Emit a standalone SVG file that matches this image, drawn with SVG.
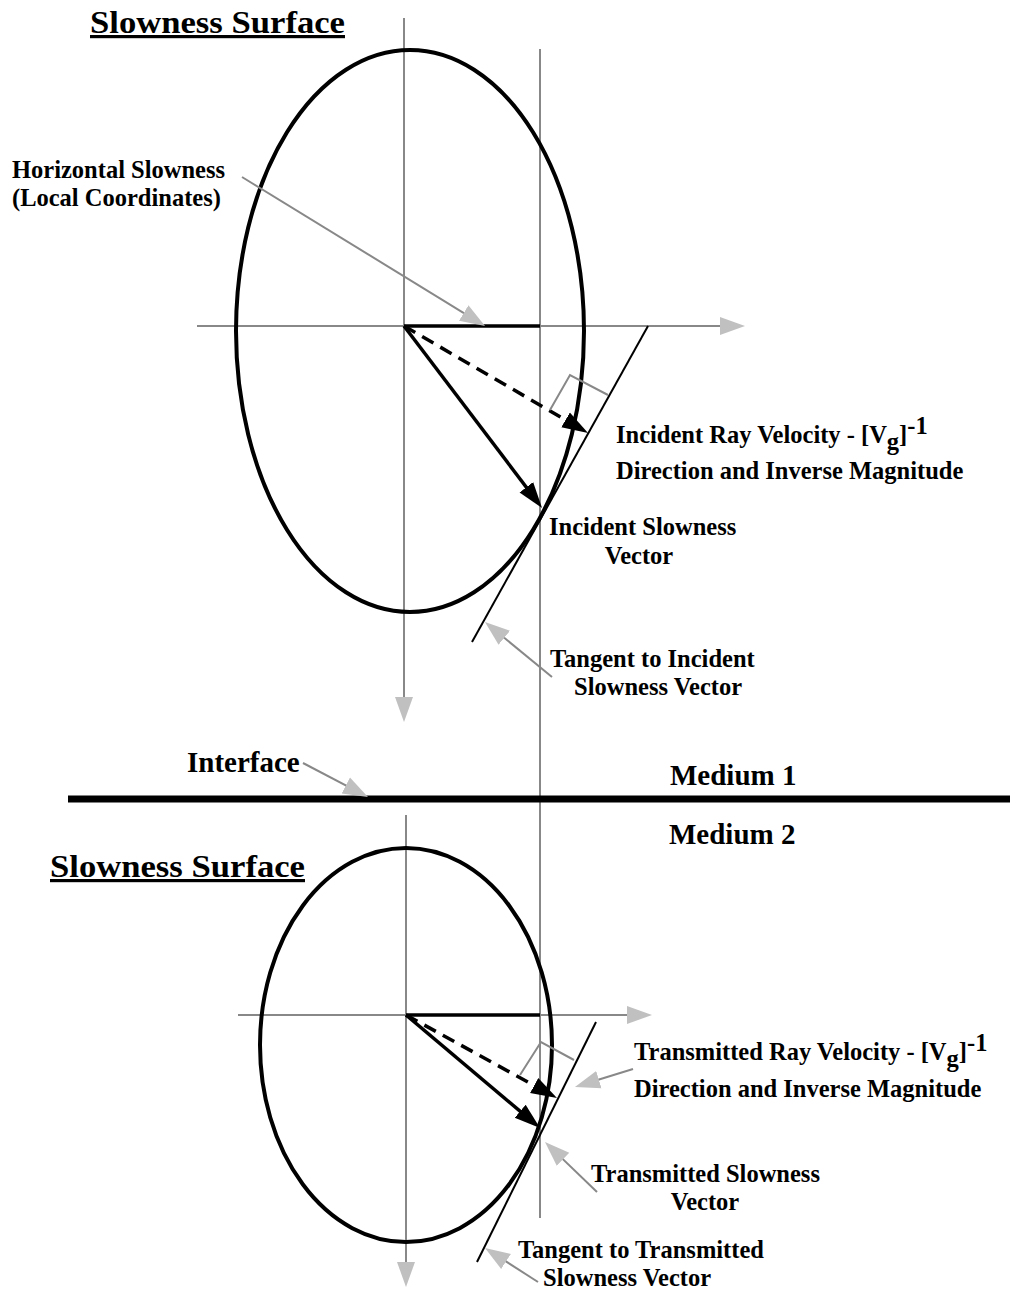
<svg xmlns="http://www.w3.org/2000/svg" width="1010" height="1289" viewBox="0 0 1010 1289">
<style>
  .t { font-family: "Liberation Serif", "Times New Roman", serif; font-weight: bold; fill: #000; }
  .lbl { font-size: 24.5px; }
  .med { font-size: 29px; }
  .title { font-size: 32px; text-decoration: underline; }
  .gray { stroke: #888; stroke-width: 2; fill: none; }
  .surf { stroke: #000; stroke-width: 4; fill: none; }
  .vec { stroke: #000; stroke-width: 3.5; fill: none; }
  .dash { stroke-dasharray: 13 8; }
  .tan { stroke: #000; stroke-width: 2; fill: none; }
</style>
<defs>
  <marker id="blk" markerUnits="userSpaceOnUse" markerWidth="30" markerHeight="20" viewBox="0 -10 30 20" refX="16" refY="0" orient="auto">
    <path d="M0,-8.5 L26,0 L0,8.5 z" fill="#000"/>
  </marker>
  <marker id="gry" markerUnits="userSpaceOnUse" markerWidth="30" markerHeight="22" viewBox="0 -11 30 22" refX="15" refY="0" orient="auto">
    <path d="M0,-9 L25,0 L0,9 z" fill="#c0c0c0"/>
  </marker>
</defs>
<rect width="1010" height="1289" fill="#fff"/>

<g id="top-axes">
  <line class="gray" x1="197" y1="326" x2="735" y2="326" marker-end="url(#gry)"/>
  <line class="gray" x1="404" y1="18" x2="404" y2="712" marker-end="url(#gry)"/>
</g>
<g id="bottom-axes">
  <line class="gray" x1="238" y1="1015" x2="642" y2="1015" marker-end="url(#gry)"/>
  <line class="gray" x1="406" y1="815" x2="406" y2="1277" marker-end="url(#gry)"/>
</g>
<g id="vertical-projection">
  <line class="gray" x1="540" y1="49" x2="540" y2="1218"/>
</g>

<g id="top-slowness-surface">
  <ellipse class="surf" cx="410" cy="331" rx="174" ry="281"/>
</g>
<g id="bottom-slowness-surface">
  <ellipse class="surf" cx="406" cy="1045" rx="146" ry="197"/>
</g>

<g id="interface">
  <line x1="68" y1="799" x2="1010" y2="799" stroke="#000" stroke-width="7"/>
</g>

<g id="connectors">
  <!-- top -->
  <line class="vec" x1="404" y1="326" x2="540" y2="326"/>
  <line class="vec" x1="404" y1="326" x2="536" y2="500" marker-end="url(#blk)"/>
  <line class="vec dash" x1="404" y1="326" x2="579.4" y2="428" marker-end="url(#blk)"/>
  <line class="tan" x1="648" y1="326" x2="472" y2="642"/>
  <polyline class="gray" points="550,410 570,375 608,395"/>
  <!-- bottom -->
  <line class="vec" x1="406" y1="1015" x2="540" y2="1015"/>
  <line class="vec" x1="406" y1="1015" x2="532.4" y2="1121.6" marker-end="url(#blk)"/>
  <line class="vec dash" x1="406" y1="1015" x2="548.2" y2="1093.2" marker-end="url(#blk)"/>
  <line class="tan" x1="596" y1="1022" x2="477" y2="1262"/>
  <polyline class="gray" points="520,1075 541,1042 574,1060"/>
  <!-- label pointers -->
  <line class="gray" x1="242" y1="177" x2="476.5" y2="320.8" marker-end="url(#gry)"/>
  <line class="gray" x1="552" y1="677" x2="492.7" y2="628.3" marker-end="url(#gry)"/>
  <line class="gray" x1="303" y1="763" x2="359.1" y2="792.4" marker-end="url(#gry)"/>
  <line class="gray" x1="633" y1="1069" x2="584.5" y2="1084" marker-end="url(#gry)"/>
  <line class="gray" x1="597" y1="1192" x2="552.2" y2="1148.9" marker-end="url(#gry)"/>
  <line class="gray" x1="538" y1="1282" x2="493.4" y2="1253.4" marker-end="url(#gry)"/>
</g>

<g id="title-top">
  <text class="t title" x="90" y="33" textLength="255" lengthAdjust="spacingAndGlyphs">Slowness Surface</text>
</g>
<g id="label-horizontal-slowness">
  <text class="t lbl" x="12" y="178">Horizontal Slowness</text>
  <text class="t lbl" x="12" y="206">(Local Coordinates)</text>
</g>
<g id="label-incident-ray">
  <text class="t lbl" x="616" y="443">Incident Ray Velocity - [V<tspan dy="7">g</tspan><tspan dy="-7">]</tspan><tspan dy="-9">-1</tspan></text>
  <text class="t lbl" x="616" y="479">Direction and Inverse Magnitude</text>
</g>
<g id="label-incident-slowness">
  <text class="t lbl" x="549" y="535">Incident Slowness</text>
  <text class="t lbl" x="639" y="564" text-anchor="middle">Vector</text>
</g>
<g id="label-tangent-incident">
  <text class="t lbl" x="550" y="667">Tangent to Incident</text>
  <text class="t lbl" x="574" y="695">Slowness Vector</text>
</g>
<g id="label-interface">
  <text class="t med" x="187" y="772">Interface</text>
</g>
<g id="label-medium-1">
  <text class="t med" x="670" y="785">Medium 1</text>
</g>
<g id="label-medium-2">
  <text class="t med" x="669" y="844">Medium 2</text>
</g>
<g id="title-bottom">
  <text class="t title" x="50" y="877" textLength="255" lengthAdjust="spacingAndGlyphs">Slowness Surface</text>
</g>
<g id="label-transmitted-ray">
  <text class="t lbl" x="634" y="1060">Transmitted Ray Velocity - [V<tspan dy="7">g</tspan><tspan dy="-7">]</tspan><tspan dy="-9">-1</tspan></text>
  <text class="t lbl" x="634" y="1097">Direction and Inverse Magnitude</text>
</g>
<g id="label-transmitted-slowness">
  <text class="t lbl" x="591" y="1182">Transmitted Slowness</text>
  <text class="t lbl" x="705" y="1210" text-anchor="middle">Vector</text>
</g>
<g id="label-tangent-transmitted">
  <text class="t lbl" x="518" y="1258">Tangent to Transmitted</text>
  <text class="t lbl" x="543" y="1286">Slowness Vector</text>
</g>
</svg>
